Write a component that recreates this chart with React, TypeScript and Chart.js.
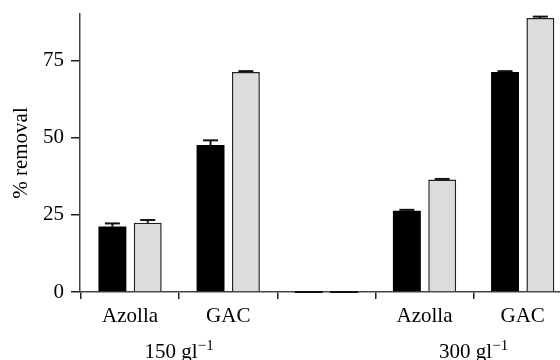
import React, { useEffect, useRef } from "react";
import { Chart, registerables } from "chart.js";

Chart.register(...registerables);

const categories = ["Azolla", "GAC", "", "Azolla", "GAC"];
const groupLabels = ["150 gl", "300 gl"];
const groupSuperscript = "\u22121";
const groupPositions = [1.5, 4.5];
const blackValues = [21.2, 47.6, 0, 26.3, 71.2];
const blackErrors = [1.0, 1.5, 0, 0.3, 0.3];
const grayValues = [22.4, 71.2, 0, 36.4, 88.7];
const grayErrors = [0.9, 0.3, 0, 0.2, 0.45];
const yTicks = [0, 25, 50, 75];

const FONT = "'Liberation Serif', 'Times New Roman', serif";

const errorBarPlugin = {
  id: "errorBars",
  afterDatasetsDraw(chart: any) {
    const ctx = chart.ctx;
    const yScale = chart.scales.y;
    const errs = [blackErrors, grayErrors];
    const vals = [blackValues, grayValues];
    ctx.save();
    chart.data.datasets.forEach((_ds: any, di: number) => {
      const meta = chart.getDatasetMeta(di);
      meta.data.forEach((bar: any, i: number) => {
        const p = bar.getProps(["x", "y", "base", "width"], true);
        const v = vals[di][i];
        const e = errs[di][i];
        ctx.strokeStyle = "#111";
        if (v === 0) {
          ctx.lineWidth = 2;
          const y0 = yScale.getPixelForValue(0);
          ctx.beginPath();
          ctx.moveTo(p.x - p.width / 2, y0);
          ctx.lineTo(p.x + p.width / 2, y0);
          ctx.stroke();
          return;
        }
        if (e > 0) {
          const yTop = yScale.getPixelForValue(v + e);
          const yBar = yScale.getPixelForValue(v);
          ctx.lineWidth = 2;
          ctx.beginPath();
          ctx.moveTo(p.x, yBar);
          ctx.lineTo(p.x, yTop);
          ctx.stroke();
          ctx.beginPath();
          ctx.moveTo(p.x - 7.5, yTop);
          ctx.lineTo(p.x + 7.5, yTop);
          ctx.stroke();
        }
      });
    });
    ctx.restore();
  },
};

const groupLabelPlugin = {
  id: "groupLabels",
  afterDraw(chart: any) {
    const ctx = chart.ctx;
    const xScale = chart.scales.x;
    const baseline = chart.height - 2;
    ctx.save();
    ctx.fillStyle = "#000";
    ctx.textBaseline = "alphabetic";
    ctx.textAlign = "left";
    groupPositions.forEach((pos, i) => {
      const main = groupLabels[i];
      ctx.font = `21px ${FONT}`;
      const wMain = ctx.measureText(main).width;
      ctx.font = `15px ${FONT}`;
      const wSup = ctx.measureText(groupSuperscript).width;
      const cx = xScale.getPixelForValue(pos);
      const left = cx - (wMain + wSup) / 2;
      ctx.font = `21px ${FONT}`;
      ctx.fillText(main, left, baseline);
      ctx.font = `15px ${FONT}`;
      ctx.fillText(groupSuperscript, left + wMain, baseline - 8);
    });
    ctx.restore();
  },
};

export default function App() {
  const ref = useRef<HTMLCanvasElement | null>(null);
  useEffect(() => {
    if (!ref.current) return;
    const xMin = 0.49;
    const xMax = 5.38;
    const chart = new Chart(ref.current, {
      type: "bar",
      data: {
        datasets: [
          {
            label: "black",
            data: blackValues.map((v, i) => ({ x: i + 1, y: v })),
            backgroundColor: "#000000",
            borderColor: "#000000",
            borderWidth: 0,
            categoryPercentage: 0.72,
            barPercentage: 0.79,
          },
          {
            label: "gray",
            data: grayValues.map((v, i) => ({ x: i + 1, y: v })),
            backgroundColor: "#dcdcdc",
            borderColor: "#222222",
            borderWidth: 1.5,
            borderSkipped: "bottom",
            categoryPercentage: 0.72,
            barPercentage: 0.79,
          },
        ] as any,
      },
      options: {
        animation: false,
        responsive: false,
        devicePixelRatio: 1,
        layout: { padding: { left: 9, top: 14, right: 0, bottom: 28 } },
        plugins: { legend: { display: false }, tooltip: { enabled: false } },
        scales: {
          x: {
            type: "linear",
            position: "bottom",
            min: xMin,
            max: xMax,
            offset: false,
            afterBuildTicks: (s: any) => {
              s.ticks = categories.map((_c, i) => ({ value: i + 1 }));
            },
            afterFit: (s: any) => {
              s.height = 40;
              s.paddingLeft = 0;
              s.paddingRight = 0;
            },
            grid: {
              drawOnChartArea: false,
              drawTicks: true,
              tickLength: 7,
              color: "#222",
              lineWidth: 1.5,
            },
            border: { display: true, color: "#444", width: 1.5 },
            ticks: {
              autoSkip: false,
              maxRotation: 0,
              padding: 5,
              color: "#000",
              font: { family: FONT, size: 21 },
              callback: (v: any) => categories[Math.round(Number(v)) - 1] ?? "",
            },
          },
          y: {
            type: "linear",
            min: 0,
            max: 90,
            afterBuildTicks: (s: any) => {
              s.ticks = yTicks.map((v) => ({ value: v }));
            },
            afterFit: (s: any) => {
              s.width = 71;
              s.paddingTop = 0;
              s.paddingBottom = 0;
            },
            grid: {
              drawOnChartArea: false,
              drawTicks: true,
              tickLength: 9,
              color: "#222",
              lineWidth: 1.5,
            },
            border: { display: true, color: "#444", width: 1.5 },
            ticks: {
              padding: 7,
              color: "#000",
              font: { family: FONT, size: 21 },
            },
            title: {
              display: true,
              text: "% removal",
              color: "#000",
              font: { family: FONT, size: 21 },
              padding: { top: 0, bottom: 0 },
            },
          },
        },
      } as any,
      plugins: [errorBarPlugin, groupLabelPlugin],
    });
    return () => chart.destroy();
  }, []);
  return (
    <div style={{ position: "fixed", left: 0, top: 0, width: 560, height: 360, background: "#fff" }}>
      <canvas ref={ref} width={560} height={360} style={{ display: "block" }} />
    </div>
  );
}
